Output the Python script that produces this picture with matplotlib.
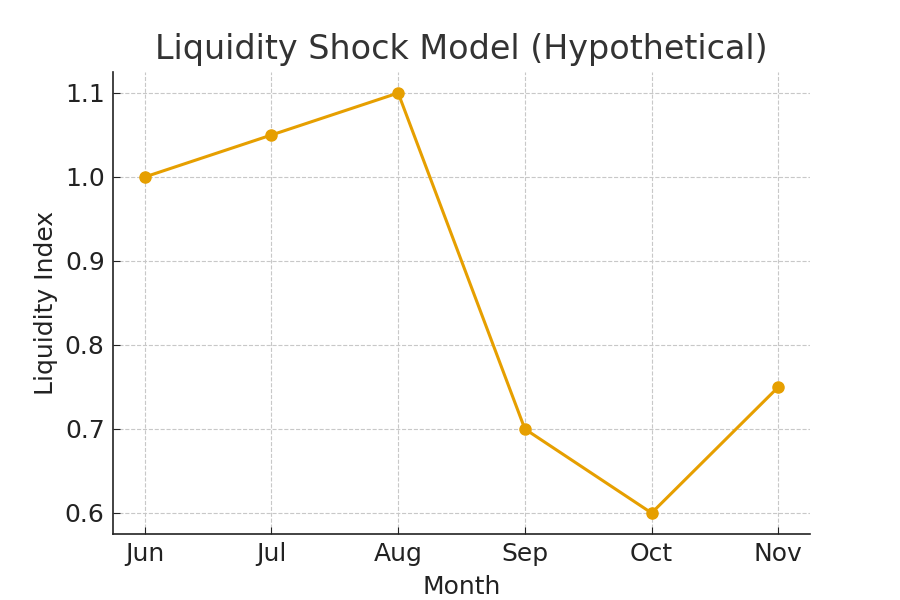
import matplotlib as mpl
mpl.use("Agg")
import matplotlib.pyplot as plt

months = ["Jun", "Jul", "Aug", "Sep", "Oct", "Nov"]
liquidity_index = [1.00, 1.05, 1.10, 0.70, 0.60, 0.75]


def main():
    f1, ax = plt.subplots(figsize=(9, 6), dpi=100)
    f1.subplots_adjust(left=0.1256, right=0.9, top=0.88, bottom=0.11)

    ax.plot(months, liquidity_index, color="#E69F00", lw=2.2,
            marker="o", markersize=8)

    ax.grid(True, ls="--", color="#c8c8c8", lw=0.8)
    ax.set_axisbelow(True)
    for s in ["top", "right"]:
        ax.spines[s].set_visible(False)
    for s in ["left", "bottom"]:
        ax.spines[s].set_linewidth(1.2)
        ax.spines[s].set_color("#222222")
    ax.tick_params(direction="in", labelsize=18, colors="#222222", length=5, pad=6)

    ax.set_title("Liquidity Shock Model (Hypothetical)", fontsize=24, color="#333333", pad=9)
    ax.set_xlabel("Month", fontsize=18, color="#222222", labelpad=6)
    ax.set_ylabel("Liquidity Index", fontsize=18, color="#222222", labelpad=5)
    ax.set_yticks([0.6, 0.7, 0.8, 0.9, 1.0, 1.1])

    f1.savefig("out.png", dpi=100)
    plt.close()


if __name__ == "__main__":
    main()
